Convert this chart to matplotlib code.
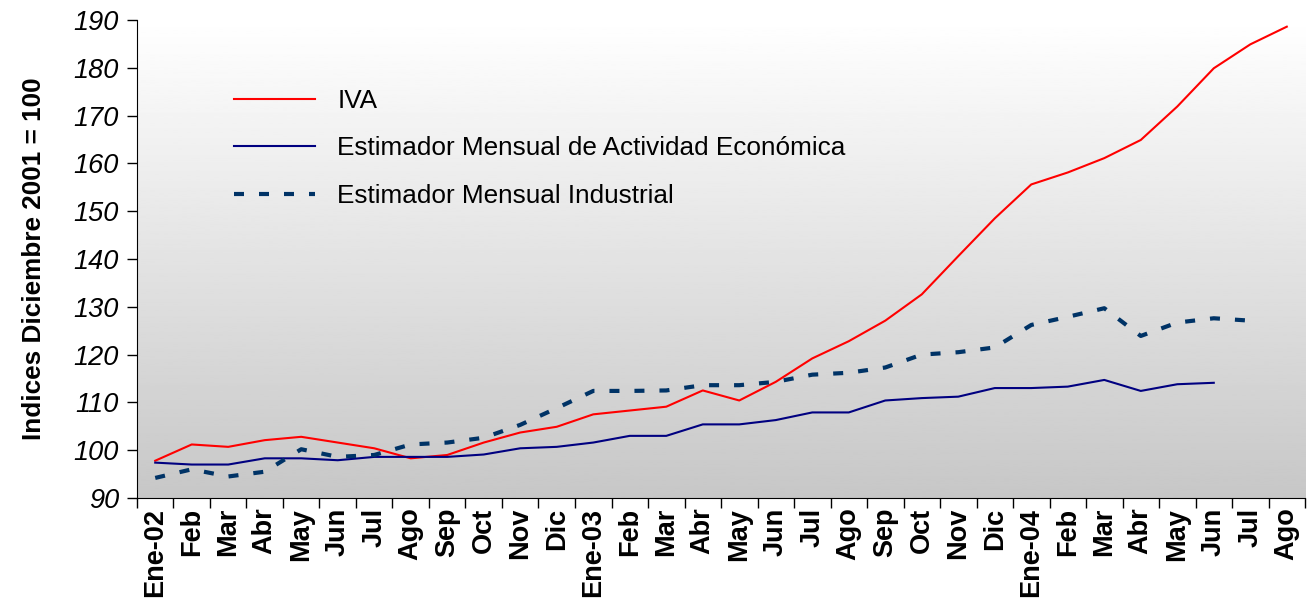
import numpy as np
import matplotlib
matplotlib.use('Agg')
import matplotlib.pyplot as plt

plt.rcParams['font.family'] = ['Liberation Sans', 'DejaVu Sans']

# months Ene-02 .. Ago-04
meses = ['Ene-02', 'Feb', 'Mar', 'Abr', 'May', 'Jun', 'Jul', 'Ago', 'Sep', 'Oct', 'Nov', 'Dic',
         'Ene-03', 'Feb', 'Mar', 'Abr', 'May', 'Jun', 'Jul', 'Ago', 'Sep', 'Oct', 'Nov', 'Dic',
         'Ene-04', 'Feb', 'Mar', 'Abr', 'May', 'Jun', 'Jul', 'Ago']

iva = [97.8, 101.2, 100.7, 102.1, 102.8, 101.6, 100.4, 98.3, 99.0, 101.6, 103.7, 104.9,
       107.5, 108.3, 109.1, 112.5, 110.4, 114.3, 119.2, 122.8, 127.1, 132.6, 140.6, 148.5,
       155.6, 158.1, 161.1, 164.9, 171.9, 179.9, 184.9, 188.6]

emae = [97.4, 97.0, 97.0, 98.3, 98.3, 97.9, 98.6, 98.6, 98.6, 99.1, 100.4, 100.7,
        101.6, 103.0, 103.0, 105.4, 105.4, 106.3, 107.9, 107.9, 110.4, 110.9, 111.2, 113.0,
        113.0, 113.3, 114.7, 112.4, 113.8, 114.1, np.nan, np.nan]

emi = [94.2, 96.0, 94.5, 95.5, 100.2, 98.6, 99.0, 101.2, 101.6, 102.6, 105.3, 108.8,
       112.4, 112.4, 112.5, 113.6, 113.6, 114.3, 115.8, 116.2, 117.3, 120.0, 120.5, 121.5,
       126.2, 127.9, 129.7, 123.9, 126.7, 127.6, 127.1, np.nan]

x = np.arange(len(meses))

fig = plt.figure(figsize=(13.07, 6.04), dpi=100)
ax = fig.add_axes([0.1048, 0.1755, 0.8937, 0.7914])

# gradient background, white on top to grey at the bottom
grad = np.linspace(1.0, 0.78, 256).reshape(-1, 1)
ax.imshow(grad, cmap='gray', vmin=0, vmax=1, aspect='auto',
          extent=[0, 1, 0, 1], transform=ax.transAxes, zorder=0)

ax.plot(x, iva, color='#ff0000', lw=1.5, label='IVA', zorder=3)
ax.plot(x, emae, color='#000080', lw=1.5, label='Estimador Mensual de Actividad Económica', zorder=3)
ax.plot(x, emi, color='#003366', lw=3.0, dashes=(2.4, 3.6), dash_capstyle='butt',
        label='Estimador Mensual Industrial', zorder=3)

ax.set_xlim(-0.5, len(meses) - 0.5)
ax.set_ylim(90, 190)
ax.set_yticks(range(90, 191, 10))
ax.set_xticks(x)
ax.set_xticklabels(meses, rotation=90, fontsize=19.5, fontweight='bold')
ax.set_xticks(np.arange(-0.5, len(meses), 1), minor=True)
ax.tick_params(axis='x', which='major', length=0, pad=7)
ax.tick_params(axis='x', which='minor', length=7, direction='out', width=1)
ax.tick_params(axis='y', length=7, direction='out', width=1, labelsize=19.5, pad=6)
for t in ax.get_yticklabels():
    t.set_fontstyle('italic')

ax.spines['top'].set_visible(False)
ax.spines['right'].set_visible(False)

ax.set_ylabel('Indices Diciembre 2001 = 100', fontsize=18.8, fontweight='bold', labelpad=20)

ax.legend(loc='upper left', bbox_to_anchor=(0.063, 0.905), frameon=False, fontsize=18.8,
          handlelength=3.1, handletextpad=0.85, labelspacing=0.9)

fig.savefig('out.png', dpi=100)
